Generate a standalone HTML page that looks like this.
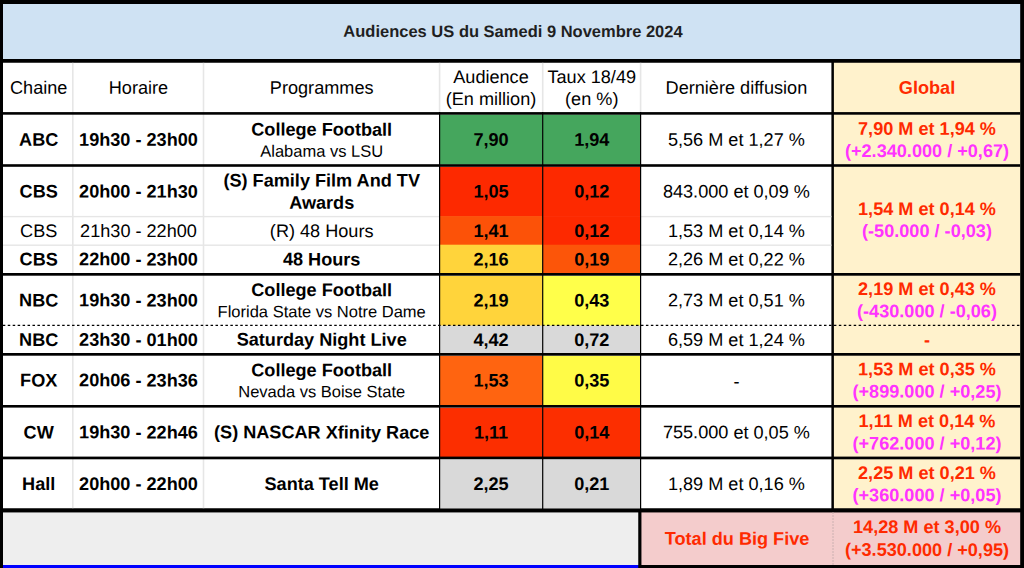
<!DOCTYPE html>
<html lang="fr"><head><meta charset="utf-8"><title>Audiences US du Samedi 9 Novembre 2024</title>
<style>
html,body{margin:0;padding:0;background:#000;overflow:hidden}
svg{display:block}
text{font-family:"Liberation Sans",sans-serif;text-anchor:middle;fill:#000;font-size:18.12px}
.t{font-size:16.5px;font-weight:bold;fill:#1f1f1f}
.r{font-weight:normal}
.b{font-weight:bold}
.s{font-size:16.5px;font-weight:normal}
.red{fill:#FF2A00}
.mag{fill:#FF33FF}
</style></head><body>
<svg width="1024" height="568" viewBox="0 0 1024 568">
<rect x="0" y="0" width="1024" height="568" fill="#000"/>
<rect x="3" y="4" width="1017.2" height="55" fill="#CFE2F3"/>
<rect x="3" y="62.5" width="828.4" height="446.0" fill="#fff"/>
<rect x="833.9" y="62.5" width="186.3" height="446.0" fill="#FFF2CC"/>
<rect x="3" y="512.25" width="635.5" height="52.75" fill="#EEEEEE"/>
<rect x="3" y="565" width="635.5" height="3" fill="#0000FF"/>
<rect x="641.25" y="512.25" width="378.95" height="52.75" fill="#F4CCCC"/>
<rect x="439.6" y="114.5" width="103.1" height="50.1" fill="#45A65D"/>
<rect x="542.7" y="114.5" width="97.8" height="50.1" fill="#45A65D"/>
<rect x="439.6" y="166.75" width="103.1" height="49.95" fill="#FD2900"/>
<rect x="542.7" y="166.75" width="97.8" height="49.95" fill="#FD2900"/>
<rect x="439.6" y="216.1" width="103.1" height="29.2" fill="#FC5208"/>
<rect x="542.7" y="216.1" width="97.8" height="29.2" fill="#FD2900"/>
<rect x="439.6" y="244.7" width="103.1" height="28.9" fill="#FFD43B"/>
<rect x="542.7" y="244.7" width="97.8" height="28.9" fill="#FC5509"/>
<rect x="439.6" y="275.75" width="103.1" height="50.35" fill="#FFD43B"/>
<rect x="542.7" y="275.75" width="97.8" height="50.35" fill="#FFFF4A"/>
<rect x="439.6" y="325.5" width="103.1" height="28.1" fill="#D9D9D9"/>
<rect x="542.7" y="325.5" width="97.8" height="28.1" fill="#D9D9D9"/>
<rect x="439.6" y="355.75" width="103.1" height="49.85" fill="#FF6410"/>
<rect x="542.7" y="355.75" width="97.8" height="49.85" fill="#FFFB47"/>
<rect x="439.6" y="407.75" width="103.1" height="49.85" fill="#FC2E00"/>
<rect x="542.7" y="407.75" width="97.8" height="49.85" fill="#FC2E00"/>
<rect x="439.6" y="460" width="103.1" height="49.1" fill="#D9D9D9"/>
<rect x="542.7" y="460" width="97.8" height="49.1" fill="#D9D9D9"/>
<rect x="72.0" y="62.5" width="1.6" height="446.0" fill="#E6E6E6"/>
<rect x="202.7" y="62.5" width="1.6" height="446.0" fill="#E6E6E6"/>
<rect x="438.8" y="62.5" width="1.6" height="49.5" fill="#E6E6E6"/>
<rect x="541.9000000000001" y="62.5" width="1.6" height="49.5" fill="#E6E6E6"/>
<rect x="639.8000000000001" y="62.5" width="1.6" height="49.5" fill="#E6E6E6"/>
<rect x="3" y="215.9" width="437" height="1.4" fill="#E6E6E6"/>
<rect x="640.5" y="215.9" width="190.9" height="1.4" fill="#E6E6E6"/>
<rect x="3" y="244.5" width="437" height="1.4" fill="#E6E6E6"/>
<rect x="640.5" y="244.5" width="190.9" height="1.4" fill="#E6E6E6"/>
<rect x="439.0" y="112" width="1.2" height="398" fill="#000"/>
<rect x="542.1" y="112" width="1.2" height="398" fill="#000"/>
<rect x="640.0" y="112" width="1.2" height="398" fill="#000"/>
<rect x="3" y="59" width="1017.2" height="3.5" fill="#000"/>
<rect x="3" y="112.1" width="1017.2" height="2.6" fill="#000"/>
<rect x="3" y="164.2" width="1017.2" height="2.6" fill="#000"/>
<rect x="3" y="273" width="1017.2" height="2.7" fill="#000"/>
<rect x="3" y="353" width="1017.2" height="2.7" fill="#000"/>
<rect x="3" y="405" width="1017.2" height="2.6" fill="#000"/>
<rect x="3" y="456.6" width="1017.2" height="2.7" fill="#000"/>
<rect x="3" y="508.5" width="1017.2" height="3.75" fill="#000"/>
<rect x="638.5" y="510" width="2.75" height="58" fill="#000"/>
<line x1="833" y1="512.25" x2="833" y2="565" stroke="#BFA8A8" stroke-width="1" stroke-dasharray="1.5 1.5"/>
<line x1="2.8" y1="325.3" x2="1020.2" y2="325.3" stroke="#000" stroke-width="1.2" stroke-dasharray="2.5 2.447"/>
<text x="513" y="37" transform="rotate(0.05 513 37)" class="t">Audiences US du Samedi 9 Novembre 2024</text>
<text x="38.7" y="93.7" transform="rotate(0.05 38.7 93.7)" class="r">Chaine</text>
<text x="138.5" y="93.7" transform="rotate(0.05 138.5 93.7)" class="r">Horaire</text>
<text x="321.7" y="93.7" transform="rotate(0.05 321.7 93.7)" class="r">Programmes</text>
<text x="491.0" y="83" transform="rotate(0.05 491.0 83)" class="r">Audience</text>
<text x="491.0" y="105" transform="rotate(0.05 491.0 105)" class="r">(En million)</text>
<text x="591.75" y="83" transform="rotate(0.05 591.75 83)" class="r">Taux 18/49</text>
<text x="591.75" y="105" transform="rotate(0.05 591.75 105)" class="r">(en %)</text>
<text x="736.4" y="93.7" transform="rotate(0.05 736.4 93.7)" class="r">Dernière diffusion</text>
<text x="927" y="93.7" transform="rotate(0.05 927 93.7)" class="b red">Global</text>
<text x="38.7" y="145.7" transform="rotate(0.05 38.7 145.7)" class="b">ABC</text>
<text x="138.5" y="145.7" transform="rotate(0.05 138.5 145.7)" class="b">19h30 - 23h00</text>
<text x="321.7" y="135.6" transform="rotate(0.05 321.7 135.6)" class="b">College Football</text>
<text x="321.7" y="156.8" transform="rotate(0.05 321.7 156.8)" class="s">Alabama vs LSU</text>
<text x="491.0" y="145.7" transform="rotate(0.05 491.0 145.7)" class="b">7,90</text>
<text x="591.75" y="145.7" transform="rotate(0.05 591.75 145.7)" class="b">1,94</text>
<text x="736.4" y="145.7" transform="rotate(0.05 736.4 145.7)" class="r">5,56 M et 1,27 %</text>
<text x="38.7" y="197.6" transform="rotate(0.05 38.7 197.6)" class="b">CBS</text>
<text x="138.5" y="197.6" transform="rotate(0.05 138.5 197.6)" class="b">20h00 - 21h30</text>
<text x="321.7" y="186.5" transform="rotate(0.05 321.7 186.5)" class="b">(S) Family Film And TV</text>
<text x="321.7" y="208.7" transform="rotate(0.05 321.7 208.7)" class="b">Awards</text>
<text x="491.0" y="197.6" transform="rotate(0.05 491.0 197.6)" class="b">1,05</text>
<text x="591.75" y="197.6" transform="rotate(0.05 591.75 197.6)" class="b">0,12</text>
<text x="736.4" y="197.6" transform="rotate(0.05 736.4 197.6)" class="r">843.000 et 0,09 %</text>
<text x="38.7" y="237.0" transform="rotate(0.05 38.7 237.0)" class="r">CBS</text>
<text x="138.5" y="237.0" transform="rotate(0.05 138.5 237.0)" class="r">21h30 - 22h00</text>
<text x="321.7" y="237.1" transform="rotate(0.05 321.7 237.1)" class="r">(R) 48 Hours</text>
<text x="491.0" y="237.0" transform="rotate(0.05 491.0 237.0)" class="b">1,41</text>
<text x="591.75" y="237.0" transform="rotate(0.05 591.75 237.0)" class="b">0,12</text>
<text x="736.4" y="237.0" transform="rotate(0.05 736.4 237.0)" class="r">1,53 M et 0,14 %</text>
<text x="38.7" y="265.4" transform="rotate(0.05 38.7 265.4)" class="b">CBS</text>
<text x="138.5" y="265.4" transform="rotate(0.05 138.5 265.4)" class="b">22h00 - 23h00</text>
<text x="321.7" y="265.4" transform="rotate(0.05 321.7 265.4)" class="b">48 Hours</text>
<text x="491.0" y="265.4" transform="rotate(0.05 491.0 265.4)" class="b">2,16</text>
<text x="591.75" y="265.4" transform="rotate(0.05 591.75 265.4)" class="b">0,19</text>
<text x="736.4" y="265.4" transform="rotate(0.05 736.4 265.4)" class="r">2,26 M et 0,22 %</text>
<text x="38.7" y="306.4" transform="rotate(0.05 38.7 306.4)" class="b">NBC</text>
<text x="138.5" y="306.4" transform="rotate(0.05 138.5 306.4)" class="b">19h30 - 23h00</text>
<text x="321.7" y="296.1" transform="rotate(0.05 321.7 296.1)" class="b">College Football</text>
<text x="321.7" y="317.3" transform="rotate(0.05 321.7 317.3)" class="s">Florida State vs Notre Dame</text>
<text x="491.0" y="306.4" transform="rotate(0.05 491.0 306.4)" class="b">2,19</text>
<text x="591.75" y="306.4" transform="rotate(0.05 591.75 306.4)" class="b">0,43</text>
<text x="736.4" y="306.4" transform="rotate(0.05 736.4 306.4)" class="r">2,73 M et 0,51 %</text>
<text x="38.7" y="345.9" transform="rotate(0.05 38.7 345.9)" class="b">NBC</text>
<text x="138.5" y="345.9" transform="rotate(0.05 138.5 345.9)" class="b">23h30 - 01h00</text>
<text x="321.7" y="345.7" transform="rotate(0.05 321.7 345.7)" class="b">Saturday Night Live</text>
<text x="491.0" y="345.9" transform="rotate(0.05 491.0 345.9)" class="b">4,42</text>
<text x="591.75" y="345.9" transform="rotate(0.05 591.75 345.9)" class="b">0,72</text>
<text x="736.4" y="345.9" transform="rotate(0.05 736.4 345.9)" class="r">6,59 M et 1,24 %</text>
<text x="38.7" y="386.4" transform="rotate(0.05 38.7 386.4)" class="b">FOX</text>
<text x="138.5" y="386.4" transform="rotate(0.05 138.5 386.4)" class="b">20h06 - 23h36</text>
<text x="321.7" y="376.3" transform="rotate(0.05 321.7 376.3)" class="b">College Football</text>
<text x="321.7" y="397.3" transform="rotate(0.05 321.7 397.3)" class="s">Nevada vs Boise State</text>
<text x="491.0" y="386.4" transform="rotate(0.05 491.0 386.4)" class="b">1,53</text>
<text x="591.75" y="386.4" transform="rotate(0.05 591.75 386.4)" class="b">0,35</text>
<text x="736.4" y="387.4" transform="rotate(0.05 736.4 387.4)" class="r">-</text>
<text x="38.7" y="438.4" transform="rotate(0.05 38.7 438.4)" class="b">CW</text>
<text x="138.5" y="438.4" transform="rotate(0.05 138.5 438.4)" class="b">19h30 - 22h46</text>
<text x="321.7" y="438.4" transform="rotate(0.05 321.7 438.4)" class="b">(S) NASCAR Xfinity Race</text>
<text x="491.0" y="438.4" transform="rotate(0.05 491.0 438.4)" class="b">1,11</text>
<text x="591.75" y="438.4" transform="rotate(0.05 591.75 438.4)" class="b">0,14</text>
<text x="736.4" y="438.4" transform="rotate(0.05 736.4 438.4)" class="r">755.000 et 0,05 %</text>
<text x="38.7" y="490.0" transform="rotate(0.05 38.7 490.0)" class="b">Hall</text>
<text x="138.5" y="490.0" transform="rotate(0.05 138.5 490.0)" class="b">20h00 - 22h00</text>
<text x="321.7" y="490.0" transform="rotate(0.05 321.7 490.0)" class="b">Santa Tell Me</text>
<text x="491.0" y="490.0" transform="rotate(0.05 491.0 490.0)" class="b">2,25</text>
<text x="591.75" y="490.0" transform="rotate(0.05 591.75 490.0)" class="b">0,21</text>
<text x="736.4" y="490.0" transform="rotate(0.05 736.4 490.0)" class="r">1,89 M et 0,16 %</text>
<text x="927" y="134.8" transform="rotate(0.05 927 134.8)" class="b red">7,90 M et 1,94 %</text>
<text x="927" y="157.0" transform="rotate(0.05 927 157.0)" class="b mag">(+2.340.000 / +0,67)</text>
<text x="927" y="215.0" transform="rotate(0.05 927 215.0)" class="b red">1,54 M et 0,14 %</text>
<text x="927" y="237.0" transform="rotate(0.05 927 237.0)" class="b mag">(-50.000 / -0,03)</text>
<text x="927" y="295.0" transform="rotate(0.05 927 295.0)" class="b red">2,19 M et 0,43 %</text>
<text x="927" y="317.3" transform="rotate(0.05 927 317.3)" class="b mag">(-430.000 / -0,06)</text>
<text x="927" y="375.2" transform="rotate(0.05 927 375.2)" class="b red">1,53 M et 0,35 %</text>
<text x="927" y="397.6" transform="rotate(0.05 927 397.6)" class="b mag">(+899.000 / +0,25)</text>
<text x="927" y="427.1" transform="rotate(0.05 927 427.1)" class="b red">1,11 M et 0,14 %</text>
<text x="927" y="449.5" transform="rotate(0.05 927 449.5)" class="b mag">(+762.000 / +0,12)</text>
<text x="927" y="479.05" transform="rotate(0.05 927 479.05)" class="b red">2,25 M et 0,21 %</text>
<text x="927" y="501.2" transform="rotate(0.05 927 501.2)" class="b mag">(+360.000 / +0,05)</text>
<text x="927" y="346" transform="rotate(0.05 927 346)" class="b red">-</text>
<text x="737.1" y="544.7" transform="rotate(0.05 737.1 544.7)" class="b red">Total du Big Five</text>
<text x="927" y="533.0" transform="rotate(0.05 927 533.0)" class="b red">14,28 M et 3,00 %</text>
<text x="927" y="555.9" transform="rotate(0.05 927 555.9)" class="b red">(+3.530.000 / +0,95)</text>
</svg>
</body></html>
